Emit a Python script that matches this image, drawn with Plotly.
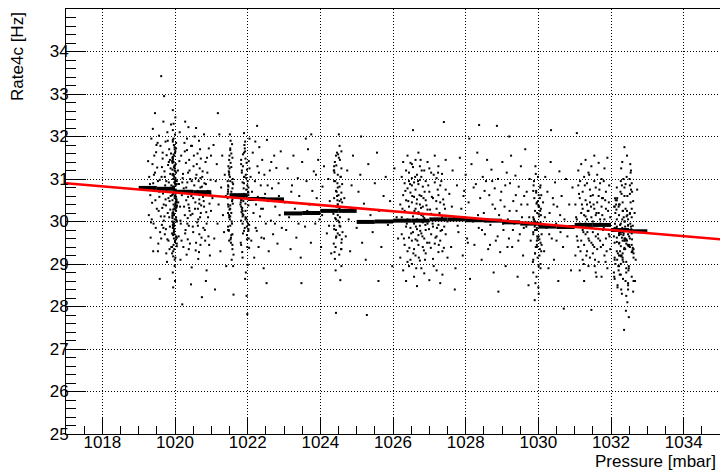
import plotly.graph_objects as go

# ---------------- data ----------------
# scatter cloud, grouped by pressure region (mbar, Hz)
p_a = [1019.26, 1019.28, 1019.31, 1019.33, 1019.35, 1019.37, 1019.39, 1019.40, 1019.42, 1019.44,
       1019.45, 1019.47, 1019.48, 1019.50, 1019.51, 1019.53, 1019.54, 1019.56, 1019.57, 1019.58,
       1019.60, 1019.61, 1019.62, 1019.63, 1019.64, 1019.66, 1019.67, 1019.68, 1019.69, 1019.70,
       1019.71, 1019.72, 1019.73, 1019.74, 1019.75, 1019.76, 1019.77, 1019.78, 1019.79, 1019.80,
       1019.81, 1019.82, 1019.83, 1019.84, 1019.85, 1019.86, 1019.87, 1019.88, 1019.89, 1019.90,
       1019.36, 1019.52, 1019.65, 1019.78, 1019.43, 1019.59, 1019.74, 1019.86, 1019.29, 1019.84]
r_a = [31.42, 30.15, 30.88, 29.62, 31.95, 30.44, 32.18, 29.30, 31.10, 30.72,
       32.55, 29.85, 31.63, 30.30, 31.27, 30.95, 29.48, 32.02, 30.58, 28.65,
       31.78, 30.12, 33.42, 31.05, 29.92, 31.48, 30.66, 32.35, 30.02, 32.95,
       31.18, 29.70, 30.85, 31.88, 30.38, 29.25, 31.56, 30.70, 32.10, 30.20,
       31.33, 29.55, 30.92, 31.70, 30.48, 29.88, 31.12, 30.60, 32.28, 29.40,
       30.05, 31.85, 30.32, 29.05, 31.55, 29.75, 30.52, 31.45, 31.05, 30.10]

p_a2 = [1019.32, 1019.38, 1019.41, 1019.46, 1019.49, 1019.55, 1019.58, 1019.62, 1019.66, 1019.69,
        1019.72, 1019.75, 1019.77, 1019.80, 1019.82, 1019.85, 1019.87, 1019.88, 1019.90, 1019.34,
        1020.09, 1020.12, 1020.15, 1020.18, 1020.22, 1020.25, 1020.28, 1020.31, 1020.33, 1020.36,
        1020.38, 1020.40, 1020.43, 1020.46, 1020.49, 1020.52, 1020.55, 1020.58, 1020.60, 1020.62,
        1020.64, 1020.66, 1020.68, 1020.69, 1020.71, 1020.73, 1020.76, 1020.79, 1020.82, 1020.85,
        1020.88, 1020.91, 1020.94, 1020.97, 1019.40, 1019.53, 1019.64, 1019.71, 1019.79, 1019.89,
        1020.20, 1020.27, 1020.34, 1020.39, 1020.44, 1020.50, 1020.57, 1020.63, 1020.67, 1020.70,
        1020.74, 1020.80, 1020.87, 1020.93, 1020.99, 1019.45, 1019.57, 1019.68, 1019.83, 1019.76]
r_a2 = [30.62, 31.35, 29.95, 30.50, 31.80, 30.25, 30.98, 29.60, 31.62, 30.40,
        31.05, 29.82, 30.75, 31.90, 30.55, 29.35, 30.28, 31.25, 30.85, 29.98,
        30.45, 31.42, 30.02, 29.55, 31.12, 30.35, 29.72, 30.80, 31.95, 30.58,
        29.35, 31.20, 30.15, 30.95, 29.88, 31.55, 30.30, 29.50, 31.35, 30.72,
        30.05, 29.28, 30.62, 31.70, 30.20, 29.62, 31.18, 30.48, 29.80, 30.88,
        31.50, 30.10, 29.45, 30.65, 30.90, 29.30, 31.28, 30.12, 29.58, 31.60,
        30.92, 31.65, 29.95, 30.32, 31.78, 30.55, 31.02, 29.90, 30.42, 31.02,
        30.82, 30.35, 29.95, 30.70, 30.25, 31.15, 30.70, 29.85, 31.40, 30.95]

p_b = [1019.92, 1019.94, 1019.96, 1019.97, 1019.98, 1020.00, 1020.01, 1020.03, 1020.05, 1019.95,
       1019.93, 1019.97, 1019.99, 1020.02, 1019.96, 1020.04, 1019.98, 1020.00, 1019.94, 1020.01,
       1019.92, 1019.96, 1019.99, 1020.03, 1019.95, 1019.97, 1020.00, 1020.02, 1019.93, 1019.98,
       1020.05, 1019.94, 1019.96, 1020.01, 1019.99, 1019.97, 1020.03, 1019.95, 1019.92, 1020.00,
       1019.98, 1020.02, 1019.96, 1019.94, 1020.04, 1019.99, 1019.97, 1020.01, 1019.93, 1019.95,
       1020.00, 1019.96, 1020.03, 1019.98, 1019.92, 1019.97, 1020.02, 1019.94, 1019.99, 1020.05,
       1019.95, 1020.01, 1019.97, 1019.93, 1020.00, 1019.96, 1020.04, 1019.98, 1019.94, 1020.02,
       1019.99, 1019.95, 1020.03, 1019.97, 1019.92, 1020.00, 1019.96, 1020.01, 1019.98, 1019.94,
       1020.02, 1019.97, 1019.93, 1020.05, 1019.99, 1019.95, 1020.00, 1019.96, 1020.03, 1019.98]
r_b = [30.62, 29.85, 31.40, 30.18, 31.05, 29.52, 30.88, 31.72, 30.35, 29.98,
       31.22, 30.70, 28.95, 30.45, 31.58, 30.02, 29.70, 30.95, 32.15, 30.28,
       29.40, 31.10, 30.55, 31.85, 29.88, 30.78, 28.60, 31.35, 30.12, 30.92,
       29.62, 31.48, 30.40, 32.45, 30.05, 29.78, 31.15, 30.65, 29.25, 31.62,
       30.30, 30.85, 29.95, 31.92, 30.48, 29.10, 31.28, 30.72, 30.20, 31.00,
       29.55, 32.30, 30.58, 29.82, 31.42, 30.15, 30.98, 28.80, 31.70, 30.38,
       29.68, 31.18, 30.82, 30.08, 32.05, 29.45, 30.52, 31.55, 29.92, 30.68,
       31.30, 28.45, 30.25, 31.80, 29.72, 30.90, 31.08, 30.42, 29.35, 32.62,
       30.75, 29.60, 31.50, 30.00, 31.25, 29.18, 30.60, 31.95, 30.32, 29.90]

p_b2 = [1019.93, 1019.95, 1019.97, 1019.99, 1020.01, 1020.03, 1020.05, 1019.94, 1019.93, 1019.95,
        1019.97, 1019.99, 1020.01, 1020.03, 1020.05, 1019.94, 1019.93, 1019.95, 1019.97, 1019.99,
        1020.01, 1020.03, 1020.05, 1019.94, 1019.93, 1019.95, 1019.97, 1019.99, 1020.01, 1020.03,
        1020.05, 1019.94, 1019.93, 1019.95, 1019.97, 1019.99, 1020.01, 1020.03, 1020.05, 1019.94]
r_b2 = [30.50, 31.12, 29.75, 30.35, 31.65, 30.10, 29.48, 30.82, 31.38, 30.22,
        29.90, 30.60, 31.02, 29.58, 30.45, 31.88, 30.00, 29.30, 30.75, 31.20,
        30.38, 29.65, 30.95, 31.52, 30.15, 29.85, 30.68, 31.32, 29.15, 30.52,
        30.88, 29.70, 31.10, 30.28, 29.95, 31.75, 30.62, 30.05, 29.42, 31.45]

p_c = [1020.08, 1020.10, 1020.11, 1020.13, 1020.14, 1020.16, 1020.17, 1020.19, 1020.20, 1020.21,
       1020.23, 1020.24, 1020.26, 1020.27, 1020.29, 1020.30, 1020.31, 1020.32, 1020.33, 1020.34,
       1020.35, 1020.35, 1020.36, 1020.37, 1020.37, 1020.38, 1020.39, 1020.39, 1020.40, 1020.41,
       1020.42, 1020.44, 1020.45, 1020.47, 1020.48, 1020.50, 1020.51, 1020.53, 1020.54, 1020.56,
       1020.57, 1020.59, 1020.60, 1020.61, 1020.62, 1020.63, 1020.64, 1020.65, 1020.66, 1020.67,
       1020.67, 1020.68, 1020.69, 1020.70, 1020.70, 1020.71, 1020.72, 1020.74, 1020.75, 1020.77,
       1020.78, 1020.80, 1020.81, 1020.83, 1020.84, 1020.86, 1020.87, 1020.89, 1020.90, 1020.92,
       1020.93, 1020.95, 1020.96, 1020.98, 1020.99, 1020.15, 1020.28, 1020.46, 1020.58, 1020.85]
r_c = [31.20, 29.65, 30.88, 32.10, 30.35, 29.95, 31.55, 30.62, 28.05, 31.02,
       29.40, 30.78, 31.85, 30.15, 29.80, 31.38, 30.50, 29.22, 31.68, 30.92,
       30.08, 29.58, 31.15, 30.40, 32.22, 29.90, 30.70, 31.45, 30.25, 29.48,
       31.00, 28.52, 30.60, 31.78, 30.18, 29.75, 31.30, 30.85, 32.00, 30.45,
       29.32, 31.10, 30.68, 29.98, 31.60, 30.30, 29.12, 30.95, 31.90, 30.52,
       29.70, 31.25, 30.10, 30.80, 29.45, 31.48, 30.38, 28.22, 31.05, 30.58,
       29.85, 32.05, 30.90, 29.55, 31.40, 30.22, 28.85, 31.15, 30.72, 29.65,
       31.72, 30.42, 29.20, 30.98, 31.55, 29.10, 32.35, 28.92, 32.20, 28.60]

p_d = [1021.03, 1021.06, 1021.08, 1021.10, 1021.12, 1021.15, 1021.17, 1021.20, 1021.22,
       1021.25, 1021.27, 1021.30, 1021.32, 1021.35, 1021.37, 1021.40, 1021.41, 1021.18]
r_d = [30.55, 31.80, 29.60, 28.40, 30.95, 31.35, 29.95, 30.40, 32.05,
       29.30, 30.80, 31.55, 30.15, 29.75, 31.10, 30.60, 28.95, 32.55]

p_e = [1021.45, 1021.48, 1021.50, 1021.52, 1021.55, 1021.58, 1021.60, 1021.47, 1021.53,
       1021.57, 1021.46, 1021.51, 1021.54, 1021.59, 1021.49, 1021.56, 1021.61, 1021.45,
       1021.52, 1021.50, 1021.58, 1021.48, 1021.55, 1021.60, 1021.47, 1021.53, 1021.46,
       1021.57, 1021.51, 1021.49, 1021.54, 1021.59, 1021.45, 1021.56, 1021.50, 1021.52,
       1021.48, 1021.58, 1021.61, 1021.47, 1021.55, 1021.53, 1021.46, 1021.57, 1021.51]
r_e = [30.55, 29.80, 31.25, 30.12, 31.60, 29.45, 30.88, 30.35, 31.90, 29.95,
       30.70, 31.05, 29.62, 30.42, 31.45, 30.00, 29.22, 30.95, 31.72, 30.28,
       29.70, 31.18, 30.60, 28.95, 30.82, 31.38, 29.88, 30.48, 32.05, 30.15,
       29.50, 31.00, 30.65, 29.10, 31.55, 30.38, 29.78, 30.92, 28.28, 31.30,
       30.20, 29.58, 30.75, 31.82, 30.05]

p_f = [1021.81, 1021.84, 1021.87, 1021.90, 1021.93, 1021.96, 1021.99, 1022.02, 1022.05, 1021.86,
       1021.92, 1021.97, 1021.83, 1022.00, 1021.89, 1021.95, 1022.03, 1021.82, 1021.91, 1021.98,
       1021.85, 1022.01, 1021.94, 1021.88, 1022.04, 1021.96, 1021.80, 1021.93, 1021.99, 1021.87,
       1022.02, 1021.84, 1021.90, 1021.97, 1021.81, 1022.05, 1021.94, 1021.86, 1022.00, 1021.92,
       1021.88, 1021.98, 1021.83, 1022.03, 1021.95, 1021.89, 1021.91, 1022.01, 1021.85, 1021.99,
       1021.93, 1021.82, 1022.04, 1021.96, 1021.87, 1021.97, 1021.90, 1022.02, 1021.84, 1021.94]
r_f = [30.45, 31.20, 29.72, 30.90, 31.65, 30.08, 29.40, 30.62, 31.95, 30.25,
       29.85, 31.38, 30.52, 28.98, 30.78, 31.10, 29.60, 30.35, 31.80, 30.00,
       29.28, 30.70, 31.48, 30.15, 29.92, 31.02, 30.40, 28.65, 30.85, 31.58,
       29.78, 30.28, 32.08, 30.58, 29.50, 31.25, 30.10, 29.15, 30.95, 31.72,
       30.48, 29.68, 30.22, 31.42, 28.80, 30.65, 31.05, 29.95, 30.32, 27.82,
       31.88, 30.02, 29.38, 30.75, 31.30, 28.25, 30.55, 29.82, 31.15, 30.42]

p_f2 = [1021.46, 1021.49, 1021.52, 1021.55, 1021.58, 1021.46, 1021.49, 1021.52, 1021.55, 1021.58,
        1021.46, 1021.49, 1021.52, 1021.55, 1021.58, 1021.46, 1021.49, 1021.52, 1021.55, 1021.58,
        1021.82, 1021.86, 1021.90, 1021.94, 1021.98, 1022.02, 1021.82, 1021.86, 1021.90, 1021.94,
        1021.98, 1022.02, 1021.82, 1021.86, 1021.90, 1021.94, 1021.98, 1022.02, 1021.82, 1021.86]
r_f2 = [30.40, 31.10, 29.90, 30.70, 31.50, 30.20, 29.55, 30.95, 31.28, 30.52,
        29.80, 30.10, 31.68, 30.62, 29.35, 30.85, 31.15, 30.30, 29.68, 30.78,
        30.50, 29.95, 31.05, 30.25, 29.58, 30.80, 31.45, 30.12, 29.78, 30.62,
        31.22, 30.38, 29.45, 30.92, 31.62, 30.05, 29.88, 30.68, 31.35, 30.18]

p_g = [1022.08, 1022.10, 1022.12, 1022.14, 1022.16, 1022.18, 1022.20, 1022.21, 1022.23, 1022.25,
       1022.27, 1022.28, 1022.30, 1022.32, 1022.34, 1022.36, 1022.38, 1022.40, 1022.42, 1022.44,
       1022.46, 1022.48, 1022.50, 1022.53, 1022.56, 1022.58, 1022.61, 1022.64, 1022.67, 1022.70,
       1022.73, 1022.76, 1022.79, 1022.82, 1022.85, 1022.88, 1022.91, 1022.94, 1022.26, 1022.52,
       1022.13, 1022.22, 1022.31, 1022.37, 1022.45, 1022.55, 1022.65, 1022.75, 1022.86]
r_g = [31.05, 29.55, 30.70, 31.62, 30.20, 29.15, 30.95, 31.88, 30.40, 29.78,
       31.30, 30.58, 29.40, 31.75, 30.12, 30.85, 29.62, 31.45, 30.30, 28.90,
       31.10, 30.65, 29.95, 31.92, 30.48, 29.30, 31.20, 30.02, 30.78, 29.70,
       31.55, 30.35, 31.26, 29.48, 30.90, 30.15, 31.65, 29.85, 32.25, 28.55,
       30.55, 29.85, 31.15, 30.30, 29.60, 30.85, 31.40, 29.95, 30.60]

p_h = [1023.02, 1023.06, 1023.10, 1023.14, 1023.18, 1023.22, 1023.26, 1023.30, 1023.34, 1023.38,
       1023.42, 1023.46, 1023.50, 1023.54, 1023.58, 1023.62, 1023.66, 1023.70, 1023.74, 1023.78,
       1023.82, 1023.86, 1023.90, 1023.94, 1023.98, 1024.02, 1024.06, 1024.10, 1024.14, 1024.18,
       1024.22, 1024.26, 1024.30, 1023.48, 1023.75, 1023.60, 1023.20, 1023.40, 1023.64, 1023.88,
       1024.05, 1024.24]
r_h = [30.45, 29.80, 31.25, 30.10, 29.35, 30.85, 31.55, 30.30, 29.62, 31.02,
       30.60, 29.15, 31.40, 30.18, 29.88, 30.95, 31.70, 30.40, 29.50, 30.72,
       31.18, 29.95, 30.55, 31.45, 30.05, 29.40, 30.82, 31.30, 30.25, 29.72,
       31.00, 30.48, 29.25, 28.55, 32.05, 31.95, 30.70, 29.95, 30.25, 31.10,
       30.15, 29.90]

p_i = [1024.36, 1024.40, 1024.44, 1024.48, 1024.52, 1024.56, 1024.60, 1024.38, 1024.46, 1024.54,
       1024.42, 1024.50, 1024.58, 1024.37, 1024.45, 1024.53, 1024.61, 1024.41, 1024.49, 1024.57,
       1024.39, 1024.47, 1024.55, 1024.43, 1024.51, 1024.59, 1024.36, 1024.44, 1024.52, 1024.60,
       1024.40, 1024.48, 1024.56, 1024.38, 1024.46, 1024.54, 1024.42, 1024.50, 1024.58, 1024.37,
       1024.45, 1024.53, 1024.41, 1024.49, 1024.57, 1024.39, 1024.47, 1024.55, 1024.43, 1024.51,
       1024.38, 1024.43, 1024.48, 1024.53, 1024.58, 1024.38, 1024.43, 1024.48, 1024.53, 1024.58,
       1024.38, 1024.43, 1024.48, 1024.53, 1024.58, 1024.38, 1024.43, 1024.48, 1024.53, 1024.58]
r_i = [30.25, 31.40, 29.65, 30.80, 29.22, 31.05, 30.45, 29.90, 31.62, 30.10,
       28.85, 30.62, 31.25, 29.48, 30.35, 31.78, 29.75, 30.95, 30.02, 29.35,
       31.15, 30.50, 28.62, 30.72, 31.50, 29.58, 30.18, 31.32, 29.98, 30.88,
       29.12, 30.40, 31.05, 29.82, 30.60, 31.45, 29.40, 30.28, 28.95, 31.20,
       30.70, 29.68, 30.08, 31.58, 30.52, 29.28, 30.90, 29.88, 27.85, 32.05,
       30.55, 29.80, 31.10, 30.30, 29.50, 30.95, 31.55, 30.15, 29.90, 30.68,
       31.30, 29.62, 30.40, 30.82, 29.35, 31.20, 30.05, 29.72, 30.48, 31.65]

p_j = [1024.66, 1024.70, 1024.74, 1024.78, 1024.82, 1024.86, 1024.90, 1024.95, 1025.00, 1025.05,
       1025.10, 1025.15, 1025.20, 1025.25, 1025.28, 1025.32, 1025.38, 1025.44, 1025.50, 1025.56,
       1025.62, 1025.68, 1025.74, 1025.80, 1025.86, 1025.92, 1025.98, 1026.04, 1026.10, 1026.14,
       1025.12, 1025.60]
r_j = [30.55, 29.65, 31.20, 30.05, 29.30, 30.85, 31.55, 30.30, 29.85, 30.70,
       31.10, 29.50, 30.42, 29.10, 27.80, 31.35, 30.15, 29.75, 30.90, 31.62,
       30.25, 29.40, 30.60, 31.05, 29.92, 30.48, 28.95, 31.25, 30.10, 29.60,
       32.00, 28.60]

p_k = [1026.20, 1026.20, 1026.24, 1026.24, 1026.24, 1026.28, 1026.28, 1026.28, 1026.32, 1026.32,
       1026.32, 1026.36, 1026.36, 1026.36, 1026.36, 1026.40, 1026.40, 1026.40, 1026.40, 1026.44,
       1026.44, 1026.44, 1026.44, 1026.44, 1026.48, 1026.48, 1026.48, 1026.48, 1026.48, 1026.52,
       1026.52, 1026.52, 1026.52, 1026.52, 1026.55, 1026.55, 1026.55, 1026.55, 1026.58, 1026.58,
       1026.58, 1026.58, 1026.58, 1026.62, 1026.62, 1026.62, 1026.62, 1026.62, 1026.66, 1026.66,
       1026.66, 1026.66, 1026.66, 1026.70, 1026.70, 1026.70, 1026.70, 1026.70, 1026.74, 1026.74,
       1026.74, 1026.74, 1026.74, 1026.78, 1026.78, 1026.78, 1026.78, 1026.78, 1026.82, 1026.82,
       1026.82, 1026.82, 1026.86, 1026.86, 1026.86, 1026.86, 1026.90, 1026.90, 1026.90, 1026.90,
       1026.95, 1026.95, 1026.95, 1027.00, 1027.00, 1027.00, 1027.05, 1027.05, 1027.05, 1027.10,
       1027.10, 1027.10, 1027.15, 1027.15, 1027.15, 1027.20, 1027.20, 1027.20, 1027.20, 1027.25,
       1027.25, 1027.25, 1027.25, 1027.30, 1027.30, 1027.30, 1027.30, 1027.35, 1027.35, 1027.35,
       1027.40, 1027.40, 1027.40, 1027.45, 1027.45, 1027.45, 1027.50, 1027.50]
r_k = [30.40, 29.15, 31.05, 29.70, 30.10, 30.62, 28.85, 31.40, 29.45, 30.25,
       30.90, 31.20, 29.88, 30.50, 28.60, 30.78, 29.30, 31.55, 30.05, 29.62,
       30.95, 30.35, 28.95, 31.15, 30.68, 29.10, 31.38, 29.85, 30.20, 31.02,
       29.55, 30.45, 29.00, 30.85, 32.15, 30.12, 29.75, 31.28, 30.58, 29.35,
       30.92, 28.70, 29.95, 31.45, 30.30, 29.58, 30.75, 29.20, 30.05, 31.10,
       29.82, 30.52, 28.48, 29.45, 30.88, 30.22, 31.62, 29.68, 30.40, 29.08,
       30.98, 29.90, 31.30, 29.72, 30.60, 28.90, 30.15, 31.05, 30.82, 29.40,
       30.35, 29.98, 29.60, 31.20, 30.08, 28.78, 30.50, 29.25, 30.95, 29.80,
       31.40, 29.95, 30.28, 29.50, 30.70, 28.62, 30.18, 31.15, 29.70, 29.88,
       30.55, 29.12, 30.92, 29.48, 31.55, 30.30, 29.65, 28.85, 31.02, 29.92,
       30.62, 29.28, 31.30, 30.45, 29.55, 30.85, 28.55, 29.80, 31.12, 30.10,
       32.34, 30.40, 29.38, 30.75, 29.70, 31.45, 30.00, 29.15]

p_k2 = [1026.26, 1026.30, 1026.34, 1026.38, 1026.42, 1026.45, 1026.47, 1026.50, 1026.53, 1026.56,
        1026.59, 1026.61, 1026.63, 1026.65, 1026.67, 1026.69, 1026.71, 1026.73, 1026.75, 1026.77,
        1026.79, 1026.81, 1026.83, 1026.85, 1026.87, 1026.89, 1026.92, 1026.94, 1026.97, 1026.99,
        1027.02, 1027.04, 1027.07, 1027.09, 1027.12, 1027.14, 1027.17, 1027.19, 1027.21, 1027.23,
        1027.26, 1027.28, 1027.31, 1027.33, 1027.36, 1027.38, 1027.41, 1027.43, 1026.40, 1026.52,
        1026.64, 1026.76, 1026.88, 1027.00, 1027.12, 1027.24, 1027.36, 1026.58, 1026.70, 1026.84]
r_k2 = [30.30, 29.60, 30.72, 29.95, 30.48, 29.38, 30.88, 29.72, 30.60, 29.25,
        30.25, 31.05, 29.88, 30.42, 29.55, 30.95, 29.15, 30.62, 29.78, 30.32,
        31.20, 29.65, 30.12, 29.32, 30.70, 29.92, 30.38, 29.50, 30.85, 29.82,
        30.28, 29.38, 30.58, 29.95, 31.10, 30.15, 29.62, 30.48, 29.85, 30.75,
        29.45, 30.20, 29.78, 30.95, 29.30, 30.52, 29.88, 30.30, 29.05, 31.35,
        28.90, 31.45, 29.10, 31.25, 28.95, 31.15, 28.75, 30.00, 30.18, 30.55]

p_l = [1027.55, 1027.60, 1027.64, 1027.68, 1027.72, 1027.76, 1027.80, 1027.84, 1027.88, 1027.92,
       1027.96, 1028.00, 1028.04, 1028.08, 1028.12, 1028.16, 1028.20, 1028.24, 1028.28, 1028.32,
       1028.36, 1028.37, 1028.40, 1028.44, 1028.47, 1028.50, 1028.53, 1028.56, 1028.59, 1028.62,
       1028.65, 1028.68, 1028.71, 1028.74, 1028.77, 1028.80, 1028.83, 1028.86, 1028.89, 1028.92,
       1028.95, 1028.98, 1029.01, 1029.04, 1029.07, 1029.10, 1029.13, 1029.16, 1029.19, 1029.22,
       1029.25, 1029.28, 1029.31, 1029.34, 1029.37, 1029.40, 1029.43, 1029.46, 1029.49, 1029.52,
       1029.55, 1029.58, 1029.61, 1029.64, 1029.67, 1029.70, 1029.73, 1029.76, 1029.79, 1028.10,
       1029.20, 1027.70, 1028.90,
       1027.62, 1027.78, 1027.94, 1028.06, 1028.22, 1028.34, 1028.45, 1028.52, 1028.60, 1028.67,
       1028.73, 1028.81, 1028.88, 1028.96, 1029.03, 1029.09, 1029.15, 1029.21, 1029.30, 1029.38,
       1029.45, 1029.53, 1029.60, 1029.68, 1029.75]
r_l = [30.65, 29.40, 31.20, 30.10, 28.90, 30.85, 29.75, 31.50, 30.30, 29.20,
       30.72, 31.10, 29.60, 30.45, 28.65, 31.35, 30.00, 29.45, 30.88, 31.62,
       29.85, 32.27, 30.55, 29.10, 31.05, 30.20, 29.70, 30.95, 31.45, 29.35,
       30.62, 29.92, 31.22, 30.40, 28.80, 30.78, 29.55, 32.25, 31.00, 30.15,
       29.28, 30.70, 31.40, 29.80, 30.35, 28.95, 31.15, 30.05, 29.60, 30.90,
       31.55, 29.40, 30.48, 29.95, 31.08, 30.25, 28.70, 30.82, 29.70, 31.30,
       30.10, 29.20, 30.60, 31.70, 29.88, 30.40, 28.50, 31.00, 29.55, 31.95,
       32.00, 28.40, 28.35,
       30.35, 29.90, 30.60, 29.50, 30.80, 30.15, 29.80, 30.72, 30.05, 29.45,
       30.95, 30.30, 29.65, 30.50, 29.95, 30.85, 29.40, 30.25, 29.80, 30.62,
       29.55, 30.40, 29.85, 30.70, 30.10]

p_m = [1029.85, 1029.89, 1029.93, 1029.97, 1030.01, 1030.05, 1030.09, 1029.87, 1029.91, 1029.95,
       1029.99, 1030.03, 1030.07, 1029.86, 1029.90, 1029.94, 1029.98, 1030.02, 1030.06, 1029.88,
       1029.92, 1029.96, 1030.00, 1030.04, 1030.08, 1029.85, 1029.89, 1029.93, 1029.97, 1030.01,
       1030.05, 1030.09, 1029.87, 1029.91, 1029.95, 1029.99, 1030.03, 1030.07, 1029.86, 1029.90,
       1029.94, 1029.98, 1030.02, 1030.06, 1029.88, 1029.92, 1029.96, 1030.00, 1030.04, 1030.08,
       1029.86, 1029.91, 1029.96, 1030.01, 1030.06, 1029.86, 1029.91, 1029.96, 1030.01, 1030.06,
       1029.86, 1029.91, 1029.96, 1030.01, 1030.06, 1029.86, 1029.91, 1029.96, 1030.01, 1030.06]
r_m = [29.95, 30.55, 29.40, 30.20, 28.95, 30.80, 29.70, 30.05, 29.25, 30.42,
       31.05, 29.58, 30.30, 28.80, 29.88, 30.68, 29.15, 30.12, 29.50, 30.95,
       28.55, 29.80, 30.38, 29.35, 30.62, 29.05, 30.00, 31.12, 29.65, 28.30,
       30.25, 29.45, 30.85, 29.92, 28.70, 30.48, 29.20, 30.15, 29.75, 28.15,
       30.72, 29.60, 30.35, 29.00, 30.05, 31.30, 29.85, 28.45, 30.55, 29.30,
       29.70, 30.25, 29.45, 30.62, 29.90, 30.10, 29.25, 30.45, 29.65, 30.85,
       29.10, 30.00, 29.55, 30.35, 28.90, 30.72, 29.80, 29.40, 30.18, 29.98]

p_n = [1030.13, 1030.16, 1030.19, 1030.22, 1030.25, 1030.28, 1030.31, 1030.34, 1030.37, 1030.40,
       1030.43, 1030.46, 1030.49, 1030.52, 1030.55, 1030.58, 1030.61, 1030.64, 1030.68, 1030.72,
       1030.76, 1030.80, 1030.85, 1030.90, 1030.94, 1030.35, 1030.70, 1030.18, 1030.30, 1030.42,
       1030.50, 1030.60]
r_n = [30.45, 29.30, 31.05, 29.85, 30.70, 28.90, 30.20, 31.40, 29.60, 30.55,
       29.10, 30.92, 29.95, 30.35, 28.60, 31.18, 29.75, 30.60, 29.40, 30.05,
       31.00, 29.65, 30.40, 28.85, 30.80, 32.15, 27.95, 30.10, 29.70, 30.40,
       29.55, 30.15]

p_o = [1031.02, 1031.02, 1031.06, 1031.06, 1031.06, 1031.10, 1031.10, 1031.10, 1031.14, 1031.14,
       1031.14, 1031.18, 1031.18, 1031.18, 1031.22, 1031.22, 1031.22, 1031.22, 1031.26, 1031.26,
       1031.26, 1031.26, 1031.30, 1031.30, 1031.30, 1031.30, 1031.34, 1031.34, 1031.34, 1031.34,
       1031.38, 1031.38, 1031.38, 1031.38, 1031.42, 1031.42, 1031.42, 1031.42, 1031.46, 1031.46,
       1031.46, 1031.46, 1031.50, 1031.50, 1031.50, 1031.50, 1031.54, 1031.54, 1031.54, 1031.54,
       1031.58, 1031.58, 1031.58, 1031.58, 1031.62, 1031.62, 1031.62, 1031.62, 1031.66, 1031.66,
       1031.66, 1031.66, 1031.70, 1031.70, 1031.70, 1031.74, 1031.74, 1031.74, 1031.78, 1031.78,
       1031.78, 1031.82, 1031.82, 1031.82, 1031.86, 1031.86, 1031.86, 1031.90, 1031.90, 1031.90,
       1031.94, 1031.94, 1031.98, 1031.98]
r_o = [30.40, 29.20, 32.08, 30.05, 29.65, 30.85, 29.40, 31.20, 29.95, 30.55,
       28.85, 31.35, 30.20, 29.55, 29.80, 30.70, 29.10, 30.30, 31.05, 29.45,
       30.15, 28.60, 30.50, 29.70, 31.45, 29.95, 30.05, 29.30, 30.90, 30.40,
       29.60, 31.15, 30.25, 28.95, 30.75, 29.85, 29.15, 30.45, 31.30, 30.10,
       29.50, 27.92, 29.75, 30.62, 30.00, 29.25, 30.95, 29.40, 31.55, 30.30,
       30.15, 29.65, 28.80, 30.80, 29.90, 31.10, 30.45, 29.35, 30.60, 29.05,
       30.20, 31.38, 29.55, 30.90, 29.95, 30.35, 28.70, 31.00, 29.80, 30.55,
       29.45, 31.25, 30.05, 29.20, 30.70, 29.60, 30.30, 29.90, 31.50, 28.90,
       30.45, 29.70, 30.10, 29.35]

p_o2 = [1031.04, 1031.08, 1031.12, 1031.16, 1031.20, 1031.24, 1031.28, 1031.32, 1031.36, 1031.40,
        1031.44, 1031.48, 1031.52, 1031.56, 1031.60, 1031.64, 1031.68, 1031.72, 1031.76, 1031.80,
        1031.84, 1031.88, 1031.92, 1031.96, 1031.05, 1031.15, 1031.25, 1031.35, 1031.45, 1031.55,
        1031.65, 1031.75, 1031.85, 1031.95, 1031.30, 1031.50, 1031.70, 1031.40, 1031.60, 1031.80]
r_o2 = [30.10, 29.55, 30.65, 29.30, 30.40, 29.75, 30.85, 29.20, 30.25, 29.55,
        30.60, 29.85, 30.40, 29.10, 30.20, 29.70, 30.75, 29.40, 30.15, 29.85,
        30.50, 29.30, 30.25, 29.65, 29.90, 30.95, 29.00, 29.75, 30.35, 28.95,
        29.60, 30.55, 29.05, 30.85, 30.12, 29.45, 30.05, 31.10, 28.70, 30.95]

p_p = [1032.08, 1032.14, 1032.20, 1032.25, 1032.30, 1032.35, 1032.40, 1032.45, 1032.50, 1032.55, 1032.60,
       1032.11, 1032.17, 1032.22, 1032.28, 1032.33, 1032.38, 1032.43, 1032.48, 1032.53, 1032.58, 1032.36,
       1032.09, 1032.15, 1032.21, 1032.26, 1032.31, 1032.37, 1032.42, 1032.47, 1032.52, 1032.57, 1032.32,
       1032.12, 1032.18, 1032.23, 1032.29, 1032.34, 1032.39, 1032.44, 1032.49, 1032.54, 1032.59, 1032.27,
       1032.10, 1032.16, 1032.24, 1032.30, 1032.35, 1032.41, 1032.46, 1032.51, 1032.56, 1032.61, 1032.40,
       1032.13, 1032.19, 1032.25, 1032.28, 1032.33, 1032.38, 1032.44, 1032.49, 1032.55, 1032.60, 1032.34,
       1032.08, 1032.15, 1032.22, 1032.27, 1032.32, 1032.37, 1032.42, 1032.47, 1032.52, 1032.58, 1032.45,
       1032.11, 1032.18, 1032.24, 1032.29, 1032.35, 1032.40, 1032.45, 1032.50, 1032.54, 1032.59, 1032.31,
       1032.09, 1032.16, 1032.21, 1032.26, 1032.31, 1032.36, 1032.43, 1032.48, 1032.53, 1032.57, 1032.39,
       1032.12, 1032.17, 1032.23, 1032.30, 1032.34, 1032.39, 1032.44, 1032.49, 1032.55, 1032.61, 1032.28,
       1032.65, 1032.68, 1032.72, 1032.66]
r_p = [29.65, 30.40, 28.95, 29.30, 30.85, 29.80, 28.60, 30.15, 29.45, 31.20, 29.90,
       30.55, 29.10, 29.72, 28.40, 30.25, 29.55, 31.05, 28.85, 29.95, 30.70, 29.35,
       28.70, 29.85, 30.35, 29.20, 31.40, 29.60, 28.25, 30.05, 29.40, 30.90, 29.75,
       30.20, 28.50, 29.50, 30.65, 29.05, 29.88, 31.55, 28.90, 30.45, 29.28, 29.70,
       29.15, 30.80, 28.75, 29.62, 30.10, 27.90, 29.45, 31.00, 29.82, 28.35, 30.30,
       30.50, 29.25, 29.92, 31.25, 28.65, 30.00, 29.55, 28.95, 30.75, 29.38, 29.68,
       28.80, 30.28, 29.48, 30.95, 29.10, 31.75, 29.78, 28.55, 30.18, 29.58, 30.60,
       29.95, 28.45, 30.40, 29.20, 29.72, 30.88, 28.10, 29.65, 31.15, 29.32, 30.05,
       30.35, 29.52, 28.85, 30.70, 29.85, 27.45, 30.12, 29.42, 31.35, 28.70, 29.60,
       29.00, 30.55, 29.75, 28.30, 31.00, 29.35, 30.25, 27.75, 29.88, 30.48, 29.18,
       30.20, 29.10, 30.75, 28.60]

p_p2 = [1032.10, 1032.16, 1032.22, 1032.27, 1032.32, 1032.37, 1032.42, 1032.47, 1032.52, 1032.57, 1032.62,
        1032.10, 1032.16, 1032.22, 1032.27, 1032.32, 1032.37, 1032.42, 1032.47, 1032.52, 1032.57, 1032.62,
        1032.10, 1032.16, 1032.22, 1032.27, 1032.32, 1032.37, 1032.42, 1032.47, 1032.52, 1032.57, 1032.62,
        1032.10, 1032.16, 1032.22, 1032.27, 1032.32, 1032.37, 1032.42, 1032.47, 1032.52, 1032.57, 1032.62,
        1032.10, 1032.16, 1032.22, 1032.27, 1032.32, 1032.37, 1032.42, 1032.47, 1032.52, 1032.57, 1032.62]
r_p2 = [29.50, 30.05, 29.20, 29.75, 30.45, 29.38, 28.90, 29.90, 29.60, 30.30, 29.15,
        29.85, 29.30, 30.15, 28.75, 29.55, 30.60, 29.05, 29.70, 30.20, 29.45, 28.60,
        30.35, 29.62, 28.95, 29.95, 29.25, 30.80, 29.48, 28.40, 29.80, 30.10, 29.35,
        29.10, 30.50, 29.68, 29.00, 30.25, 29.55, 28.80, 29.92, 30.65, 29.28, 29.78,
        28.65, 29.88, 30.40, 29.42, 29.15, 30.00, 29.58, 28.50, 30.85, 29.72, 29.25]

# profile (mean rate per 0.5 mbar bin), lower bin edges and means
prof_low_edge = [1019.0, 1019.5, 1020.0, 1020.5, 1021.5, 1022.0, 1022.5, 1023.0, 1023.5,
                 1024.0, 1024.5, 1025.0, 1025.5, 1026.0, 1026.5, 1027.0, 1027.5, 1028.0,
                 1028.5, 1029.0, 1029.5, 1030.0, 1030.5, 1031.0, 1031.5, 1032.0, 1032.5]
prof_mean = [30.79, 30.77, 30.70, 30.69, 30.62, 30.53, 30.52, 30.19, 30.20,
             30.25, 30.25, 29.99, 30.00, 30.02, 30.02, 30.05, 30.05, 30.03,
             30.02, 29.98, 29.95, 29.88, 29.87, 29.92, 29.92, 29.80, 29.77]
prof_bin_width = 0.5

# linear fit drawn across the axis range
fit_pressure = [1017.0, 1035.0]
fit_rate = [30.90, 29.58]

# ---------------- figure ----------------
scatter_p = (p_a + p_a2 + p_b + p_b2 + p_c + p_d + p_e + p_f + p_f2 + p_g + p_h + p_i + p_j
             + p_k + p_k2 + p_l + p_m + p_n + p_o + p_o2 + p_p + p_p2)
scatter_r = (r_a + r_a2 + r_b + r_b2 + r_c + r_d + r_e + r_f + r_f2 + r_g + r_h + r_i + r_j
             + r_k + r_k2 + r_l + r_m + r_n + r_o + r_o2 + r_p + r_p2)

prof_x, prof_y = [], []
for lo, m in zip(prof_low_edge, prof_mean):
    prof_x += [lo, lo + prof_bin_width, None]
    prof_y += [m, m, None]

FONT = "Liberation Sans, Arial, Helvetica, sans-serif"

fig = go.Figure()
fig.add_trace(go.Scatter(
    x=scatter_p, y=scatter_r, mode="markers",
    marker=dict(symbol="square", size=2, color="black", line=dict(width=0)),
    hoverinfo="skip", showlegend=False))
fig.add_trace(go.Scatter(
    x=prof_x, y=prof_y, mode="lines",
    line=dict(color="black", width=4), hoverinfo="skip", showlegend=False))
fig.add_trace(go.Scatter(
    x=fit_pressure, y=fit_rate, mode="lines",
    line=dict(color="#ff0000", width=2.5), hoverinfo="skip", showlegend=False))

axis_common = dict(
    showline=True, linecolor="black", linewidth=1, mirror=True,
    showgrid=True, gridcolor="black", gridwidth=1, griddash="1px,2px",
    zeroline=False, ticks="inside", tickcolor="black", tickwidth=1,
    tickfont=dict(family=FONT, size=17, color="black"),
)

fig.update_xaxes(
    range=[1017, 1035], tick0=1018, dtick=2, ticklen=16, ticklabelstandoff=-7,
    minor=dict(ticks="inside", ticklen=8, dtick=0.5, tick0=1017, tickcolor="black", showgrid=False),
    **axis_common)
fig.update_yaxes(
    range=[25, 35], tick0=25, dtick=1, ticklen=20, ticklabelstandoff=-7,
    minor=dict(ticks="inside", ticklen=10, dtick=0.2, tick0=25, tickcolor="black", showgrid=False),
    **axis_common)

fig.update_layout(
    width=720, height=470,
    margin=dict(l=66, r=0, t=9, b=36),
    paper_bgcolor="white", plot_bgcolor="white",
    font=dict(family=FONT, size=17, color="black"),
    annotations=[
        dict(text="Rate4c [Hz]", xref="paper", yref="paper", x=-0.074, y=0.998,
             xanchor="center", yanchor="top", textangle=-90, showarrow=False,
             font=dict(family=FONT, size=17, color="black")),
        dict(text="Pressure [mbar]", xref="paper", yref="paper", x=0.997, y=-0.092,
             xanchor="right", yanchor="bottom", showarrow=False,
             font=dict(family=FONT, size=17, color="black")),
    ],
)

fig.write_html("out.html", config={"displayModeBar": False})
